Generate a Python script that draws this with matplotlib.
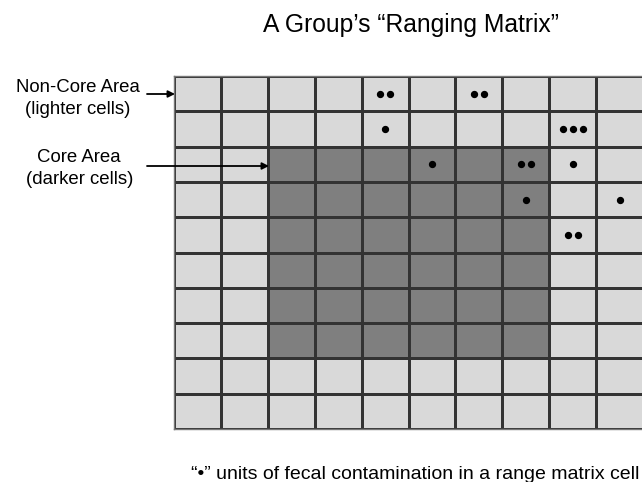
import numpy as np
import matplotlib
matplotlib.use('Agg')
import matplotlib.pyplot as plt
from matplotlib.colors import ListedColormap

plt.rcParams['font.family'] = ['Liberation Sans', 'DejaVu Sans']

# 10 x 10 ranging matrix, core area = darker block
n_rows = 10
n_cols = 10
core_rows = [2, 3, 4, 5, 6, 7]
core_cols = [2, 3, 4, 5, 6, 7]

# units of fecal contamination per cell (row, col, count)
dot_rows = [0, 0, 1, 1, 2, 2, 2, 3, 3, 4]
dot_cols = [4, 6, 4, 8, 5, 7, 8, 7, 9, 8]
dot_counts = [2, 2, 1, 3, 1, 2, 1, 1, 1, 2]

title = 'A Group\u2019s \u201cRanging Matrix\u201d'
label_noncore = ['Non-Core Area', '(lighter cells)']
label_core = ['Core Area', '(darker cells)']
footer = '\u201c\u2022\u201d units of fecal contamination in a range matrix cell'

W, H = 642, 482
fig = plt.figure(figsize=(W / 100, H / 100), dpi=100)

def fx(px):
    return px / W

def fy(py):
    return 1 - py / H

left, right, top, bottom = 174, 643, 76, 429
ax = fig.add_axes([fx(left), fy(bottom), fx(right - left), (bottom - top) / H])

grid = np.zeros((n_rows, n_cols))
for r in core_rows:
    for c in core_cols:
        grid[r, c] = 1

cmap = ListedColormap(['#d9d9d9', '#7f7f7f'])
ax.pcolormesh(np.arange(n_cols + 1), np.arange(n_rows + 1), grid, cmap=cmap,
              edgecolor='#333333', linewidth=0.75, vmin=0, vmax=1)
ax.set_xlim(0, n_cols)
ax.set_ylim(n_rows, 0)
ax.set_xticks([])
ax.set_yticks([])
for s in ax.spines.values():
    s.set_color('#777777')
    s.set_linewidth(1.0)

spacing = 10 / ((right - left) / n_cols)
xs, ys = [], []
for r, c, n in zip(dot_rows, dot_cols, dot_counts):
    offs = (np.arange(n) - (n - 1) / 2) * spacing
    for o in offs:
        xs.append(c + 0.5 + o)
        ys.append(r + 0.5)
ax.scatter(xs, ys, s=18, color='black', zorder=3, clip_on=False)

fig.text(fx(411), fy(32), title, ha='center', va='baseline', fontsize=17.7)

fig.text(fx(78), fy(92), label_noncore[0], ha='center', va='baseline', fontsize=13.4)
fig.text(fx(78), fy(114), label_noncore[1], ha='center', va='baseline', fontsize=13.4)
fig.text(fx(79), fy(162), label_core[0], ha='center', va='baseline', fontsize=13.4)
fig.text(fx(80), fy(184), label_core[1], ha='center', va='baseline', fontsize=13.4)

arrow = dict(arrowstyle='-|>', color='black', lw=1.3, mutation_scale=10, shrinkA=0, shrinkB=0)
fig.add_artist(matplotlib.patches.FancyArrowPatch((fx(147), fy(94)), (fx(175), fy(94)),
                                                  transform=fig.transFigure, **arrow))
fig.add_artist(matplotlib.patches.FancyArrowPatch((fx(147), fy(166)), (fx(269), fy(166)),
                                                  transform=fig.transFigure, **arrow))

fig.text(fx(415), fy(479), footer, ha='center', va='baseline', fontsize=14)

fig.savefig('out.png', dpi=100)
